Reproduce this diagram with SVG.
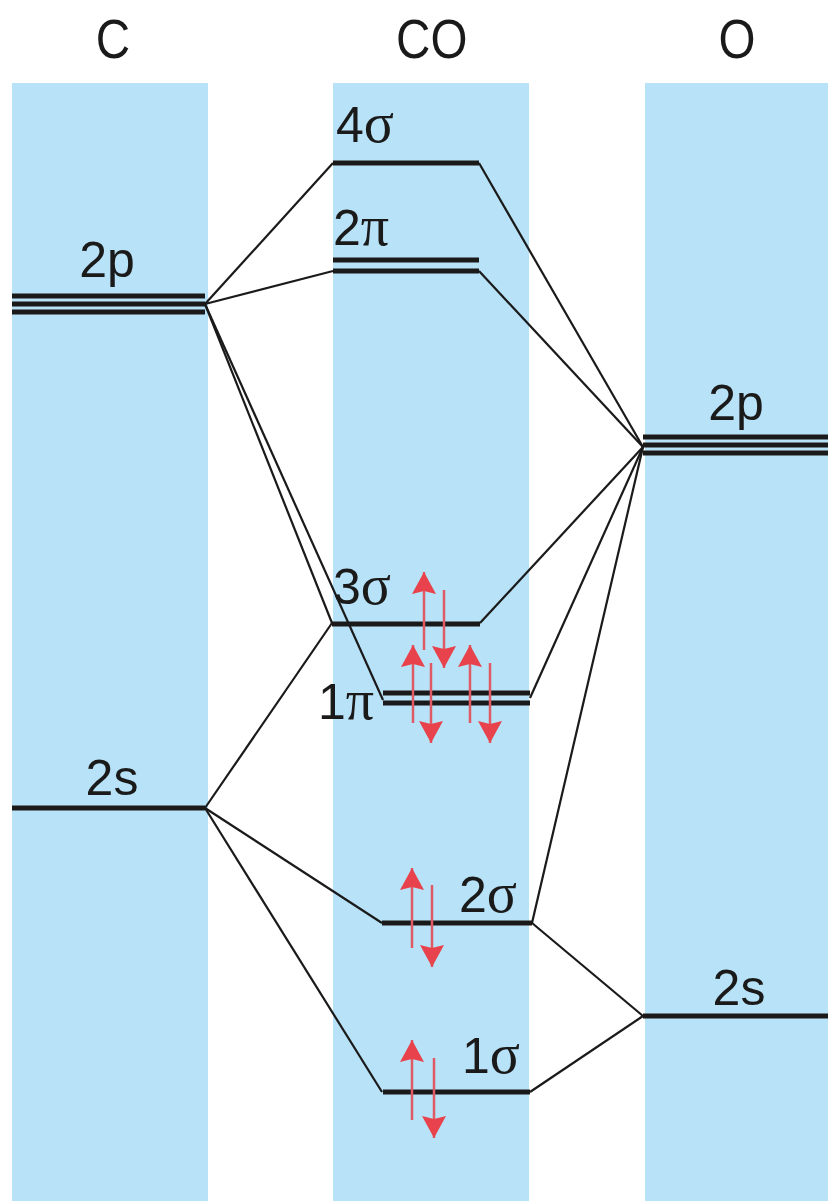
<svg xmlns="http://www.w3.org/2000/svg" width="828" height="1201" viewBox="0 0 828 1201">
<defs>
<style>
.col{fill:#b8e2f7}
.lvl{stroke:#1a1a1a;stroke-width:5;fill:none}
.con{stroke:#1a1a1a;stroke-width:2.2;fill:none}
.t{font-family:"Liberation Sans",Arial,sans-serif;font-size:50px;fill:#1a1a1a}
.ti{font-family:"Liberation Sans",Arial,sans-serif;font-size:56px;fill:#1a1a1a}
.g{font-family:"Liberation Serif","Times New Roman",serif;font-size:56px}
.sh{stroke:#e05a66;stroke-width:2.5}
.hd{fill:#e8424c}
</style>
<marker id="ah" viewBox="0 0 22 24" refX="22" refY="12" markerWidth="22" markerHeight="24" markerUnits="userSpaceOnUse" orient="auto"><path d="M0,0 L22,12 L0,24 L3,12 Z" class="hd"/></marker>
</defs>
<rect class="col" x="12" y="83" width="196" height="1118"/>
<rect class="col" x="333" y="83" width="196" height="1118"/>
<rect class="col" x="645" y="83" width="183" height="1118"/>
<g transform="scale(0.85,1)">
<text class="ti" x="133" y="58" text-anchor="middle">C</text>
<text class="ti" x="508" y="58" text-anchor="middle">CO</text>
<text class="ti" x="867" y="58" text-anchor="middle">O</text>
</g>
<g id="connectors">
<path class="con" d="M205,304 L333,163"/>
<path class="con" d="M205,304 L333,271"/>
<path class="con" d="M205,304 L332,623"/>
<path class="con" d="M205,304 L383,700"/>
<path class="con" d="M479,163 L643,447"/>
<path class="con" d="M479,271 L643,447"/>
<path class="con" d="M480,623 L643,447"/>
<path class="con" d="M530,698 L643,447"/>
<path class="con" d="M532,923 L643,447"/>
<path class="con" d="M205,808 L332,623"/>
<path class="con" d="M205,808 L382,923"/>
<path class="con" d="M205,808 L382,1092"/>
<path class="con" d="M532,923 L643,1016"/>
<path class="con" d="M530,1092 L643,1016"/>
</g>
<g id="C2p">
<path class="lvl" d="M12,296 H205 M12,304 H205 M12,312 H205"/>
<text class="t" x="107" y="277" text-anchor="middle">2p</text>
</g>
<g id="C2s">
<path class="lvl" d="M12,808 H205"/>
<text class="t" x="112" y="795" text-anchor="middle">2s</text>
</g>
<g id="O2p">
<path class="lvl" d="M643,437 H828 M643,445 H828 M643,453 H828"/>
<text class="t" x="736" y="420" text-anchor="middle">2p</text>
</g>
<g id="O2s">
<path class="lvl" d="M643,1016 H828"/>
<text class="t" x="739" y="1005" text-anchor="middle">2s</text>
</g>
<g id="s4">
<path class="lvl" d="M333,163 H479"/>
<text class="t" x="336" y="142">4<tspan class="g">σ</tspan></text>
</g>
<g id="p2">
<path class="lvl" d="M333,260 H479 M333,271 H479"/>
<text class="t" x="333" y="245">2<tspan class="g">π</tspan></text>
</g>
<g id="s3">
<path class="lvl" d="M332,624 H480"/>
<text class="t" x="333" y="604">3<tspan class="g">σ</tspan></text>
<path class="sh" d="M424,650 V572" marker-end="url(#ah)"/>
<path class="sh" d="M444,590 V668" marker-end="url(#ah)"/>
</g>
<g id="p1">
<path class="lvl" d="M383,693 H530 M383,703 H530"/>
<text class="t" x="318" y="719">1<tspan class="g">π</tspan></text>
<path class="sh" d="M413,723 V645" marker-end="url(#ah)"/>
<path class="sh" d="M431,663 V743" marker-end="url(#ah)"/>
<path class="sh" d="M470,723 V645" marker-end="url(#ah)"/>
<path class="sh" d="M490,663 V743" marker-end="url(#ah)"/>
</g>
<g id="s2">
<path class="lvl" d="M382,923 H532"/>
<text class="t" x="459" y="912">2<tspan class="g">σ</tspan></text>
<path class="sh" d="M412,948 V868" marker-end="url(#ah)"/>
<path class="sh" d="M432,885 V967" marker-end="url(#ah)"/>
</g>
<g id="s1">
<path class="lvl" d="M383,1092 H530"/>
<text class="t" x="462" y="1073">1<tspan class="g">σ</tspan></text>
<path class="sh" d="M412,1120 V1040" marker-end="url(#ah)"/>
<path class="sh" d="M434,1058 V1138" marker-end="url(#ah)"/>
</g>
</svg>
